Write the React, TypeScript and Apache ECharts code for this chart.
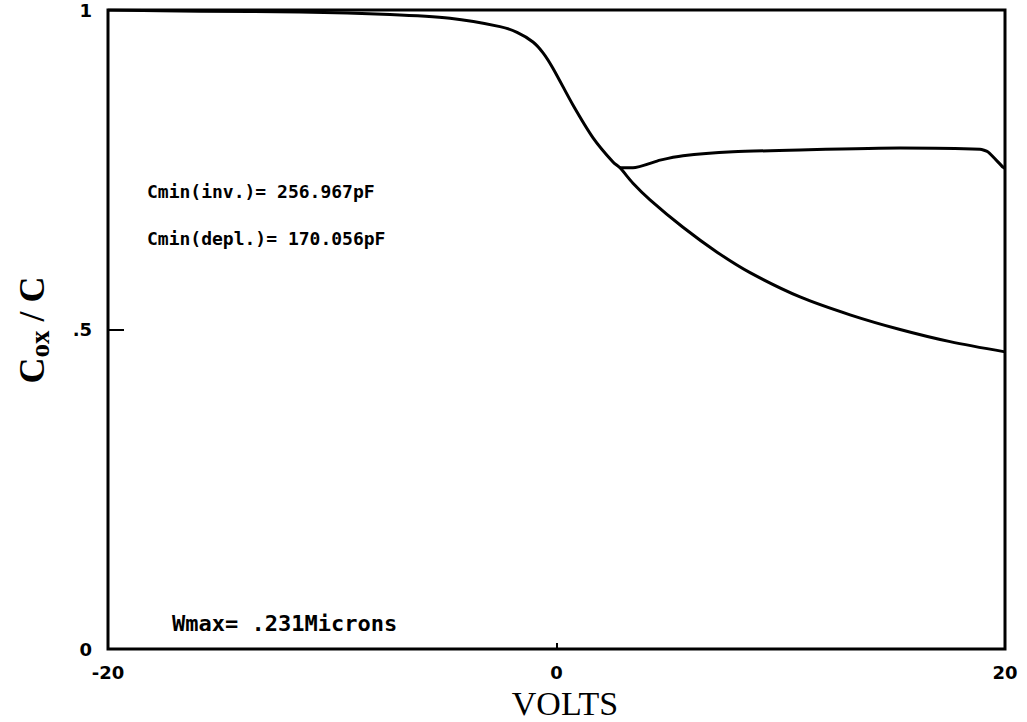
import React, { useEffect, useRef } from "react";
import * as echarts from "echarts";

// Common part of the C-V curve (before the branches separate)
const voltsCommon = [-20, -15.9, -11.44, -7.43, -4.75, -2.52, -1.76, -1.05, -0.6, -0.16, 0.74, 1.63, 2.52, 2.83];
const cCommon = [1.0, 0.998, 0.997, 0.993, 0.987, 0.974, 0.965, 0.95, 0.933, 0.909, 0.851, 0.8, 0.762, 0.753];

// Deep-depletion branch
const voltsDepl = [3.41, 4.17, 5.64, 7.16, 8.63, 10.86, 13.09, 15.32, 17.55, 20];
const cDepl = [0.729, 0.703, 0.66, 0.621, 0.589, 0.551, 0.523, 0.5, 0.481, 0.465];

// Inversion branch
const voltsInv = [2.83, 3.41, 4.62, 5.64, 7.87, 10.86, 15.32, 18.88, 19.24, 19.91, 20];
const cInv = [0.753, 0.753, 0.765, 0.772, 0.778, 0.781, 0.784, 0.782, 0.778, 0.754, 0.752];

const xTicks = [-20, 0, 20];
const yTicks = [0, 0.5, 1];
const yTickLabels = ["0", ".5", "1"];

const notes = ["Cmin(inv.)= 256.967pF", "Cmin(depl.)= 170.056pF", "Wmax= .231Microns"];

export default function App() {
  const ref = useRef<HTMLDivElement>(null);
  useEffect(() => {
    if (!ref.current) return;
    const chart = echarts.init(ref.current, null, { renderer: "svg" });
    const lowerData = [
      ...voltsCommon.map((v, i) => [v, cCommon[i]]),
      ...voltsDepl.map((v, i) => [v, cDepl[i]]),
    ];
    const upperData = voltsInv.map((v, i) => [v, cInv[i]]);
    const tickFont = {
      fontFamily: "DejaVu Sans",
      fontWeight: "bold" as const,
      fontSize: 18,
      color: "#000",
    };
    const noteStyle = {
      fontFamily: "DejaVu Sans Mono",
      fontWeight: "bold" as const,
      fontSize: 18,
      fill: "#000",
      textVerticalAlign: "middle" as const,
    };
    chart.setOption({
      animation: false,
      backgroundColor: "#fff",
      grid: {
        left: 108,
        right: 22,
        top: 10,
        bottom: 73,
        show: true,
        borderColor: "#000",
        borderWidth: 3,
        backgroundColor: "transparent",
      },
      xAxis: {
        type: "value",
        min: -20,
        max: 20,
        interval: 20,
        axisLine: { show: false, onZero: false },
        axisTick: { show: true, inside: true, length: 6, lineStyle: { color: "#000", width: 2 } },
        splitLine: { show: false },
        axisLabel: {
          ...tickFont,
          margin: 14,
          formatter: (v: number) => (xTicks.includes(v) ? String(v) : ""),
        },
      },
      yAxis: {
        type: "value",
        min: 0,
        max: 1,
        interval: 0.5,
        axisLine: { show: false, onZero: false },
        axisTick: { show: true, inside: true, length: 16, lineStyle: { color: "#000", width: 2 } },
        splitLine: { show: false },
        axisLabel: {
          ...tickFont,
          margin: 16,
          formatter: (v: number) => {
            const i = yTicks.indexOf(v);
            return i >= 0 ? yTickLabels[i] : "";
          },
        },
      },
      series: [
        {
          type: "line",
          data: lowerData,
          showSymbol: false,
          smooth: 0.3,
          lineStyle: { color: "#000", width: 3 },
        },
        {
          type: "line",
          data: upperData,
          showSymbol: false,
          smooth: 0.2,
          lineStyle: { color: "#000", width: 3 },
        },
      ],
      graphic: [
        { type: "text", left: 147, top: 182, style: { ...noteStyle, text: notes[0] } },
        { type: "text", left: 147, top: 229, style: { ...noteStyle, text: notes[1] } },
        { type: "text", left: 172, top: 612, style: { ...noteStyle, fontSize: 22, text: notes[2] } },
        {
          type: "text",
          x: 565,
          y: 703,
          style: {
            text: "VOLTS",
            fontFamily: "Liberation Serif",
            fontSize: 34,
            fill: "#000",
            align: "center",
            verticalAlign: "middle",
          },
        },
        {
          type: "text",
          x: 32,
          y: 330,
          rotation: Math.PI / 2,
          style: {
            text: "{a|C}{b|ox}{a| / C}",
            align: "center",
            verticalAlign: "middle",
            fill: "#000",
            rich: {
              a: { fontFamily: "Liberation Serif", fontSize: 36, fontWeight: "bold", lineHeight: 42, verticalAlign: "middle" },
              b: { fontFamily: "Liberation Serif", fontSize: 27, fontWeight: "bold", lineHeight: 42, verticalAlign: "bottom", padding: [16, 0, 0, 0] },
            },
          },
        },
      ],
    });
    return () => chart.dispose();
  }, []);
  return <div ref={ref} style={{ width: 1027, height: 722, position: "absolute", left: 0, top: 0 }} />;
}
